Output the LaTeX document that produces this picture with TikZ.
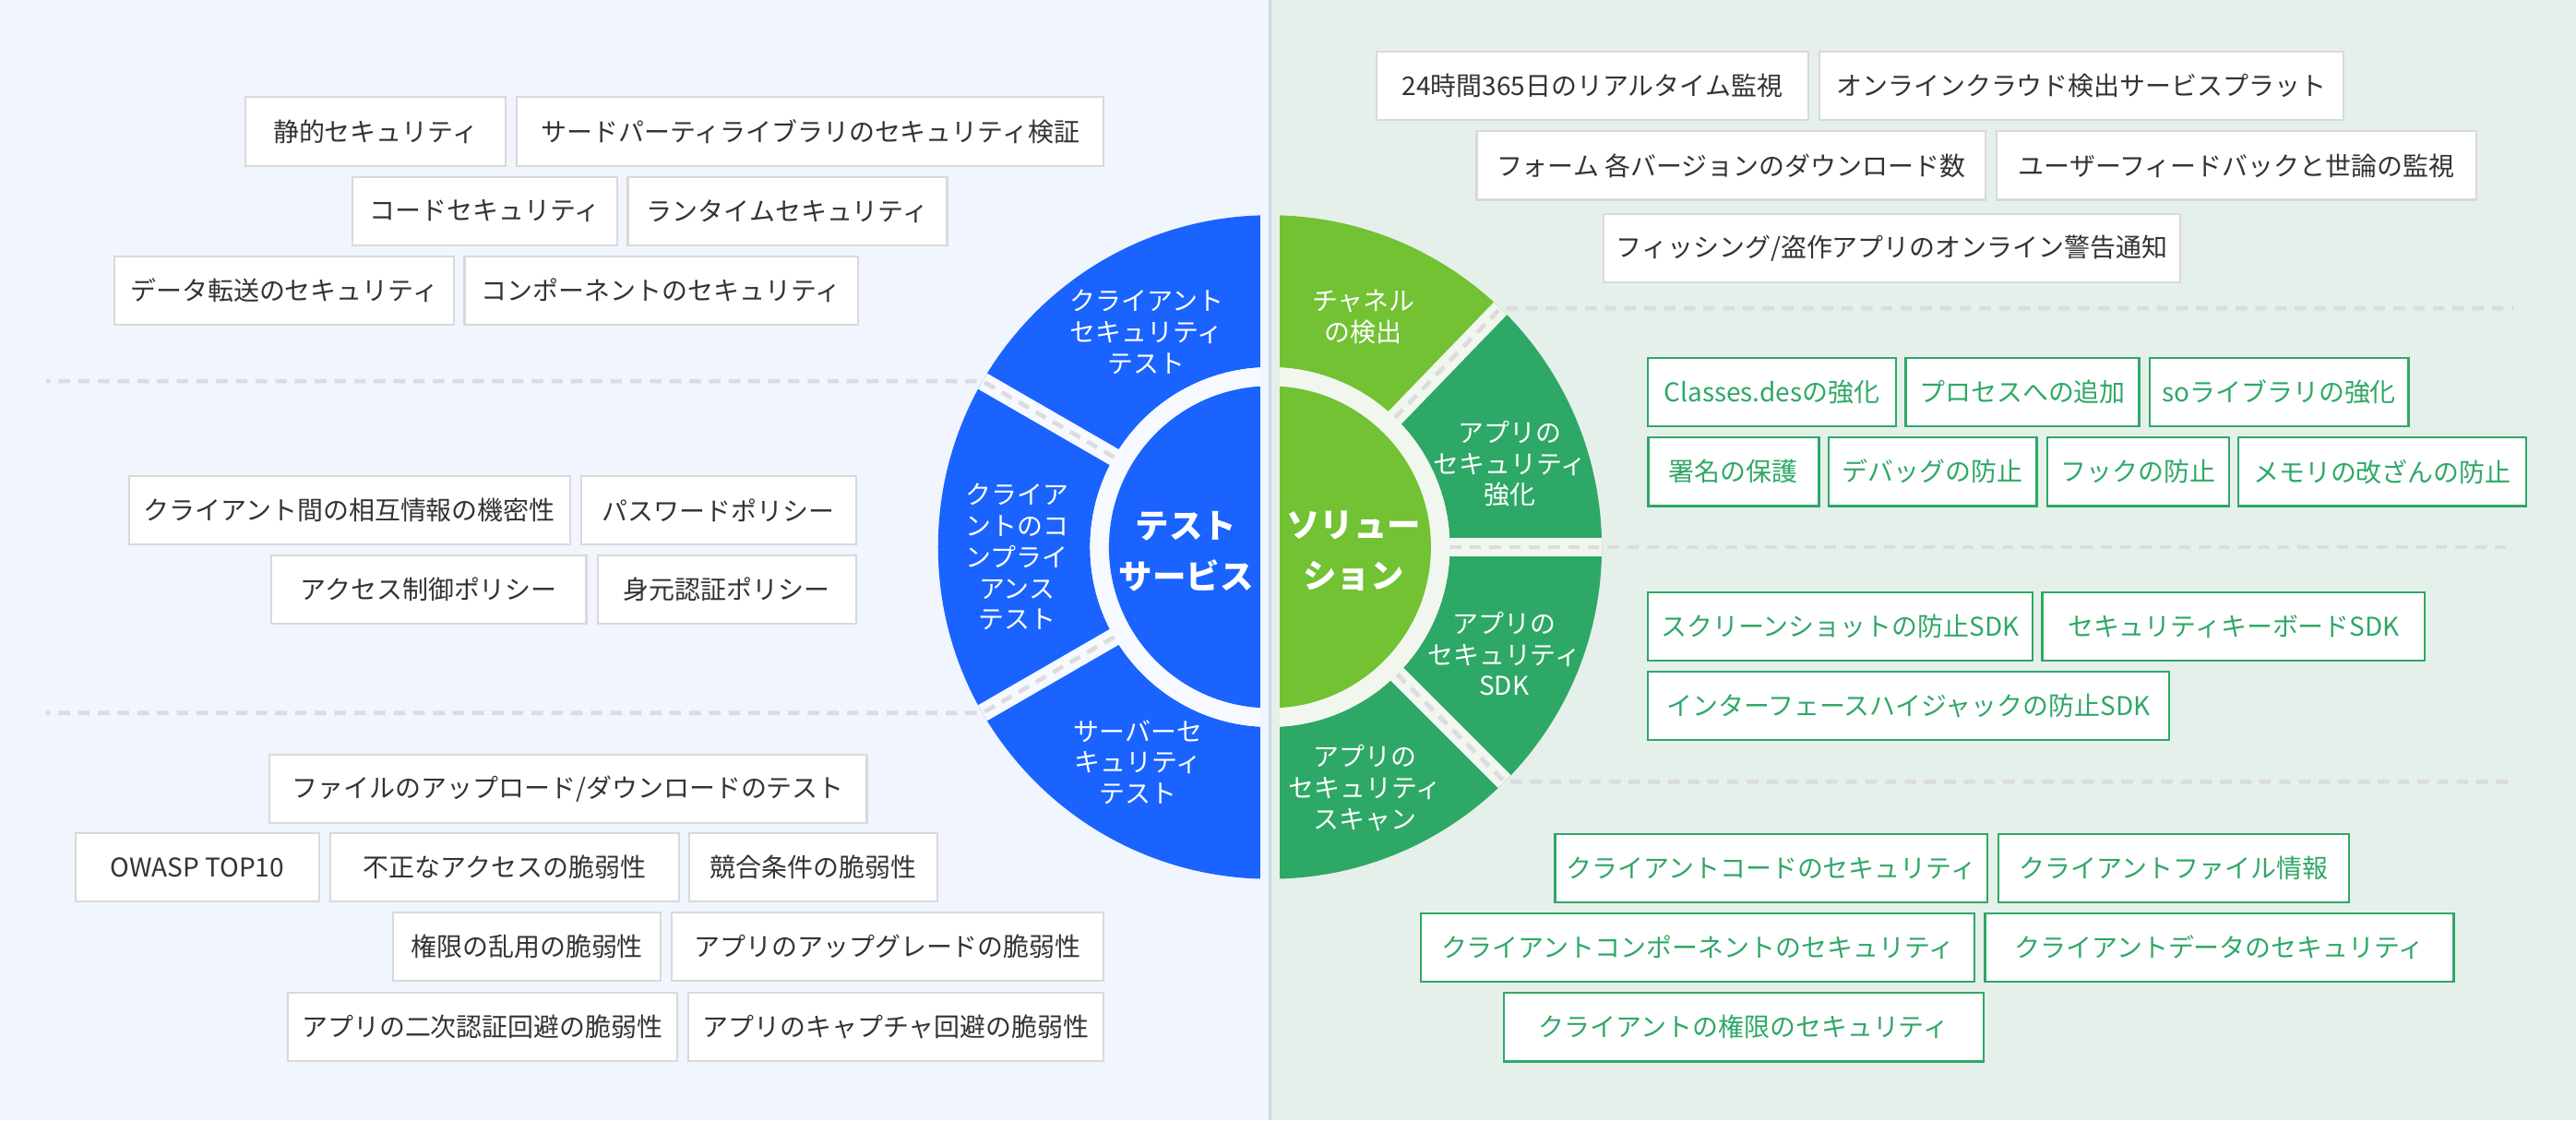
\documentclass[tikz,border=0pt]{standalone}
\usepackage{fontspec}
\setmainfont{Noto Sans CJK JP}
\usetikzlibrary{calc}
\definecolor{bgL}{HTML}{F0F5FE}
\definecolor{bgR}{HTML}{E6F0EA}
\definecolor{ringL}{HTML}{F6F9FF}
\definecolor{ringR}{HTML}{F1F7EF}
\definecolor{divc}{HTML}{C8D8F0}
\definecolor{blueS}{HTML}{1A63FF}
\definecolor{lgreen}{HTML}{72C234}
\definecolor{dgreen}{HTML}{2EA866}
\definecolor{gborder}{HTML}{D9D9D9}
\definecolor{txt}{HTML}{333333}
\definecolor{dashc}{HTML}{DCDCDC}
\newcommand\boxfnt{\fontsize{15.7}{19}\selectfont}
\newcommand\segfnt{\fontsize{15.7}{19}\selectfont}
\newcommand\cenfnt{\fontsize{20.5}{31}\selectfont\bfseries}
\newcommand\annsec[3]{\fill[#1] ($(C)+(#2:202pt)$) arc[start angle=#2, end angle=#3, radius=202pt] -- ($(C)+(#3:109.5pt)$) arc[start angle=#3, end angle=#2, radius=109.5pt] -- cycle;}
\newcommand\mkbox[6]{\pgfmathsetmacro\bw{#4-#3}\node[#1, minimum width=\bw pt] (#2) at (#3,#5) {#6};}
\begin{document}
\begin{tikzpicture}[x=1pt,y=-1pt,
  seglabel/.style={text=white, align=center, font=\segfnt, inner sep=0pt},
  centerlabel/.style={text=white, align=center, font=\cenfnt, inner sep=0pt},
  gbox/.style={draw=gborder, line width=1.2pt, fill=white, text=txt, anchor=north west, inner sep=0pt, minimum height=41.7pt, font=\boxfnt},
  grbox/.style={gbox, draw=dgreen, text=dgreen, line width=1.4pt},
  dashline/.style={draw=dashc, line width=2.6pt, dash pattern=on 7pt off 5pt}]
\useasboundingbox (0,0) rectangle (1568,682);
\fill[bgL] (0,0) rectangle (773,682);
\fill[bgR] (773,0) rectangle (1568,682);
\coordinate (C) at (773,333);
% segments
\annsec{blueS}{90}{270}
\annsec{dgreen}{-90}{46}
\annsec{lgreen}{46}{90}
% gap bands
\begin{scope}
\clip (C) circle[radius=202pt];
\draw[ringL, line width=11pt] (C) -- ($(C)+(150:230pt)$);
\draw[ringL, line width=11pt] (C) -- ($(C)+(210:230pt)$);
\draw[ringR, line width=11pt] (C) -- ($(C)+(46:230pt)$);
\draw[ringR, line width=11pt] (C) -- ($(C)+(0:230pt)$);
\draw[ringR, line width=11pt] (C) -- ($(C)+(-45:230pt)$);
\end{scope}
% ring
\fill[ringL] ($(C)+(90:109.5pt)$) arc[start angle=90, end angle=270, radius=109.5pt] -- cycle;
\fill[ringR] ($(C)+(-90:109.5pt)$) arc[start angle=-90, end angle=90, radius=109.5pt] -- cycle;
% inner disks
\fill[blueS] ($(C)+(90:98pt)$) arc[start angle=90, end angle=270, radius=98pt] -- cycle;
\fill[lgreen] ($(C)+(-90:98pt)$) arc[start angle=-90, end angle=90, radius=98pt] -- cycle;
% central vertical gap and divider
\fill[bgL] (767,120) rectangle (773,545);
\fill[bgR] (773,120) rectangle (779,545);
\draw[divc, line width=2pt] (773,0) -- (773,682);
% dashed separators
\coordinate (Lx) at (28,0);
\coordinate (Rx) at (1530,0);
\coordinate (gAi) at ($(C)+(150:109.5pt)$);
\coordinate (gAo) at ($(C)+(150:202pt)$);
\coordinate (gBi) at ($(C)+(210:109.5pt)$);
\coordinate (gBo) at ($(C)+(210:202pt)$);
\coordinate (gCi) at ($(C)+(46:109.5pt)$);
\coordinate (gCo) at ($(C)+(46:202pt)$);
\coordinate (gDi) at ($(C)+(0:109.5pt)$);
\coordinate (gDo) at ($(C)+(0:202pt)$);
\coordinate (gEi) at ($(C)+(-45:109.5pt)$);
\coordinate (gEo) at ($(C)+(-45:202pt)$);
\draw[dashline] (gAi) -- (gAo) -- (gAo -| Lx);
\draw[dashline] (gBi) -- (gBo) -- (gBo -| Lx);
\draw[dashline] (gCi) -- (gCo) -- (gCo -| Rx);
\draw[dashline] (gDi) -- (gDo) -- (gDo -| Rx);
\draw[dashline] (gEi) -- (gEo) -- (gEo -| Rx);
% segment labels
\node[seglabel] (sTL) at (698,202) {クライアント\\セキュリティ\\テスト};
\node[seglabel] (sML) at (619,339) {クライア\\ントのコ\\ンプライ\\アンス\\テスト};
\node[seglabel] (sBL) at (692.7,464) {サーバーセ\\キュリティ\\テスト};
\node[centerlabel] (cL) at (722,335.6) {テスト\\サービス};
\node[centerlabel] (cR) at (824,335.6) {ソリュー\\ション};
\node[seglabel] (sR1) at (830,193) {チャネル\\の検出};
\node[seglabel] (sR2) at (919,282.3) {アプリの\\セキュリティ\\強化};
\node[seglabel] (sR3) at (915.5,398) {アプリの\\セキュリティ\\SDK};
\node[seglabel] (sR4) at (831,479.6) {アプリの\\セキュリティ\\スキャン};
% left top boxes
\mkbox{gbox}{l1}{148.7}{307.3}{58.6}{静的セキュリティ}
\mkbox{gbox}{l2}{314}{671.1}{58.6}{サードパーティライブラリのセキュリティ検証}
\mkbox{gbox}{l3}{214.1}{375}{107.1}{コードセキュリティ}
\mkbox{gbox}{l4}{381.6}{575.9}{107.1}{ランタイムセキュリティ}
\mkbox{gbox}{l5}{69.1}{275.8}{155.4}{データ転送のセキュリティ}
\mkbox{gbox}{l6}{282.2}{521.7}{155.4}{コンポーネントのセキュリティ}
% left middle boxes
\mkbox{gbox}{m1}{77.8}{346.3}{289}{クライアント間の相互情報の機密性}
\mkbox{gbox}{m2}{353.1}{520.4}{289}{パスワードポリシー}
\mkbox{gbox}{m3}{164.5}{356.3}{337.5}{アクセス制御ポリシー}
\mkbox{gbox}{m4}{363.1}{520.4}{337.5}{身元認証ポリシー}
% left bottom boxes
\mkbox{gbox}{b1}{163.5}{527}{458.7}{ファイルのアップロード/ダウンロードのテスト}
\mkbox{gbox}{b2}{45.3}{193.5}{506.6}{OWASP TOP10}
\mkbox{gbox}{b3}{200.4}{412.7}{506.6}{不正なアクセスの脆弱性}
\mkbox{gbox}{b4}{419.1}{570}{506.6}{競合条件の脆弱性}
\mkbox{gbox}{b5}{238.7}{401.6}{554.7}{権限の乱用の脆弱性}
\mkbox{gbox}{b6}{408.4}{671}{554.7}{アプリのアップグレードの脆弱性}
\mkbox{gbox}{b7}{174.7}{411.4}{603.6}{アプリの二次認証回避の脆弱性}
\mkbox{gbox}{b8}{418.3}{671}{603.6}{アプリのキャプチャ回避の脆弱性}
% right top boxes
\mkbox{gbox}{r1}{837.2}{1100.2}{30.7}{24時間365日のリアルタイム監視}
\mkbox{gbox}{r2}{1106.8}{1425.8}{30.7}{オンラインクラウド検出サービスプラット}
\mkbox{gbox}{r3}{898.2}{1207.8}{79.3}{フォーム 各バージョンのダウンロード数}
\mkbox{gbox}{r4}{1214.8}{1506.8}{79.3}{ユーザーフィードバックと世論の監視}
\mkbox{gbox}{r5}{975.5}{1326.6}{129.7}{フィッシング/盗作アプリのオンライン警告通知}
% right hardening boxes
\mkbox{grbox}{h1}{1002.2}{1153.3}{217.2}{Classes.desの強化}
\mkbox{grbox}{h2}{1159.4}{1301.3}{217.2}{プロセスへの追加}
\mkbox{grbox}{h3}{1307.7}{1465.3}{217.2}{soライブラリの強化}
\mkbox{grbox}{h4}{1002.5}{1106.4}{265.5}{署名の保護}
\mkbox{grbox}{h5}{1112.5}{1238.9}{265.5}{デバッグの防止}
\mkbox{grbox}{h6}{1245.4}{1356}{265.5}{フックの防止}
\mkbox{grbox}{h7}{1361.7}{1536.9}{265.5}{メモリの改ざんの防止}
% right SDK boxes
\mkbox{grbox}{k1}{1002.2}{1236.4}{359.8}{スクリーンショットの防止SDK}
\mkbox{grbox}{k2}{1242.5}{1475.3}{359.8}{セキュリティキーボードSDK}
\mkbox{grbox}{k3}{1002.2}{1319.5}{408.1}{インターフェースハイジャックの防止SDK}
% right scan boxes
\mkbox{grbox}{n1}{946}{1208.9}{506.9}{クライアントコードのセキュリティ}
\mkbox{grbox}{n2}{1215.8}{1429}{506.9}{クライアントファイル情報}
\mkbox{grbox}{n3}{864.3}{1201.2}{555.2}{クライアントコンポーネントのセキュリティ}
\mkbox{grbox}{n4}{1207.6}{1493}{555.2}{クライアントデータのセキュリティ}
\mkbox{grbox}{n5}{914.6}{1206.8}{603.6}{クライアントの権限のセキュリティ}
\end{tikzpicture}
\end{document}
